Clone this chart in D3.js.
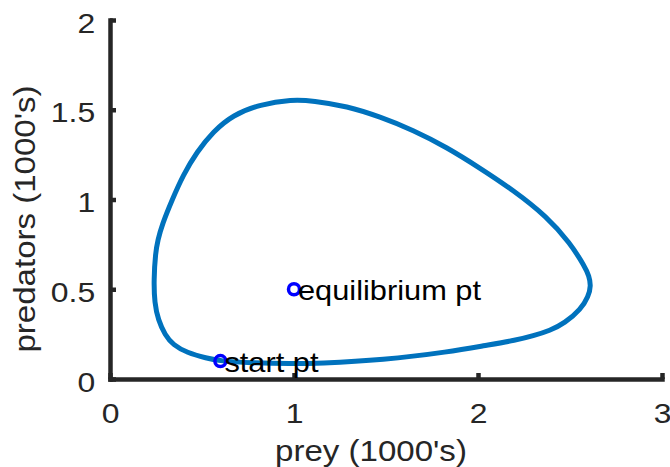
<!DOCTYPE html>
<html>
<head>
<meta charset="utf-8">
<script src="https://cdn.jsdelivr.net/npm/d3@7"></script>
<style>
  html, body { margin: 0; padding: 0; background: #fff; }
  svg { display: block; font-family: "Liberation Sans", Arial, sans-serif; }
</style>
</head>
<body>
<svg id="chart" width="670" height="467"></svg>
<script>
// orbit (prey, predators), in 1000's
const orbitPrey = [0.6, 0.761, 0.992, 1.125, 1.484, 1.848, 2.029, 2.212, 2.299, 2.391, 2.47,
  2.56, 2.6, 2.614, 2.603, 2.582, 2.5, 2.375, 2.19, 2.011, 1.832, 1.647, 1.467, 1.288, 1.103,
  0.989, 0.815, 0.668, 0.56, 0.473, 0.397, 0.337, 0.283, 0.26, 0.247, 0.238, 0.242, 0.262,
  0.299, 0.344, 0.417, 0.525];
const orbitPred = [0.1, 0.09, 0.085, 0.087, 0.105, 0.152, 0.185, 0.217, 0.24, 0.27, 0.31,
  0.39, 0.46, 0.52, 0.575, 0.624, 0.758, 0.904, 1.053, 1.175, 1.29, 1.387, 1.461, 1.52, 1.55,
  1.557, 1.53, 1.471, 1.378, 1.266, 1.136, 0.997, 0.86, 0.774, 0.702, 0.552, 0.423, 0.329,
  0.245, 0.189, 0.147, 0.116];

const markerNames = ["equilibrium pt", "start pt"];
const markerPrey = [1, 0.6];
const markerPred = [0.5, 0.1];

const preyTicks = [0, 1, 2, 3];
const predTicks = [0, 0.5, 1, 1.5, 2];

const svg = d3.select("#chart");
const axisColor = "#262626";
const stretch = "scale(1.14,1)";

const x = d3.scaleLinear().domain([0, 3]).range([110, 662]);
const y = d3.scaleLinear().domain([0, 2]).range([379, 20]);

// axes (box off, ticks pointing in)
const xAxis = svg.append("g")
  .attr("transform", "translate(0,379)")
  .call(d3.axisBottom(x).tickValues(preyTicks).tickFormat(d3.format("")).tickSizeInner(-6).tickSizeOuter(0).tickPadding(24));

const yAxis = svg.append("g")
  .attr("transform", "translate(110,0)")
  .call(d3.axisLeft(y).tickValues(predTicks).tickFormat(d3.format("")).tickSizeInner(-6).tickSizeOuter(0).tickPadding(13));

[xAxis, yAxis].forEach(a => {
  a.select(".domain").attr("stroke", axisColor).attr("stroke-width", 4.5).attr("stroke-linecap", "square");
  a.selectAll(".tick line").attr("stroke", axisColor).attr("stroke-width", 4.5);
  a.selectAll(".tick text")
    .attr("fill", axisColor)
    .style("font-size", "28px")
    .style("font-family", "'Liberation Sans', Arial, sans-serif")
    .attr("transform", stretch);
});
yAxis.selectAll(".tick text").attr("dy", "0.43em");

// orbit
const pts = orbitPrey.map((p, i) => [p, orbitPred[i]]);
svg.append("path")
  .datum(pts)
  .attr("fill", "none")
  .attr("stroke", "#0072BD")
  .attr("stroke-width", 5)
  .attr("d", d3.line().x(d => x(d[0])).y(d => y(d[1])).curve(d3.curveBasisClosed));

// marked points
markerNames.forEach((name, i) => {
  const px = x(markerPrey[i]), py = y(markerPred[i]);
  svg.append("circle")
    .attr("cx", px).attr("cy", py).attr("r", 5.5)
    .attr("fill", "none")
    .attr("stroke", "#0000FF")
    .attr("stroke-width", 3.5);
  svg.append("text")
    .attr("transform", `translate(${px + 4},${py + 11}) ${stretch}`)
    .style("font-size", "27px")
    .attr("fill", "#000")
    .text(name);
});

// axis titles
svg.append("text")
  .attr("transform", `translate(371,461) ${stretch}`)
  .attr("text-anchor", "middle")
  .style("font-size", "29px")
  .attr("fill", axisColor)
  .text("prey (1000's)");

svg.append("text")
  .attr("transform", `translate(35,219) rotate(-90) ${stretch}`)
  .attr("text-anchor", "middle")
  .style("font-size", "29px")
  .attr("fill", axisColor)
  .text("predators (1000's)");
</script>
</body>
</html>
